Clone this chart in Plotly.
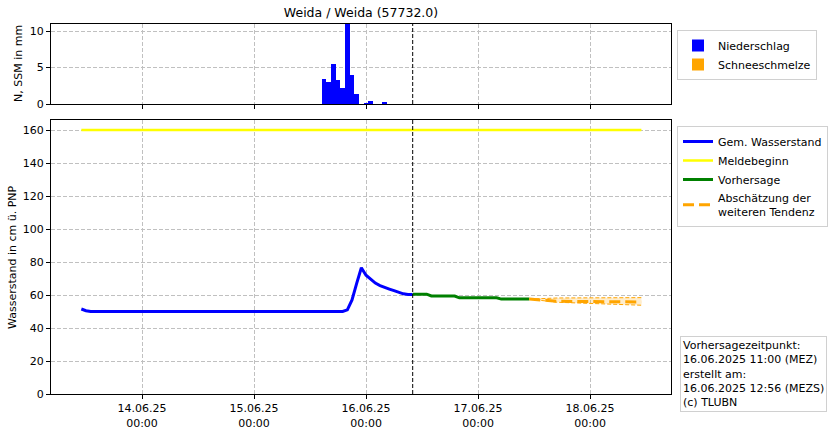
import plotly.graph_objects as go

# ---------------- data ----------------
title_text = "Weida / Weida (57732.0)"

# precipitation bars (hourly, centred)
precip_times = ["2025-06-15 15:00", "2025-06-15 16:00", "2025-06-15 17:00", "2025-06-15 18:00",
                "2025-06-15 19:00", "2025-06-15 20:00", "2025-06-15 21:00", "2025-06-15 22:00",
                "2025-06-16 00:00", "2025-06-16 01:00", "2025-06-16 04:00"]
precip_vals = [3.4, 3.0, 5.5, 3.3, 2.2, 10.9, 4.0, 1.4, 0.1, 0.4, 0.15]
snow_times = ["2025-06-15 15:00"]
snow_vals = [0.0]

# measured water level
obs_times = ["2025-06-13 11:00", "2025-06-13 12:00", "2025-06-13 13:00", "2025-06-15 19:00",
             "2025-06-15 20:00", "2025-06-15 21:00", "2025-06-15 22:00", "2025-06-15 23:00",
             "2025-06-16 00:00", "2025-06-16 01:00", "2025-06-16 02:00", "2025-06-16 03:00",
             "2025-06-16 04:00", "2025-06-16 05:00", "2025-06-16 06:00", "2025-06-16 07:00",
             "2025-06-16 08:00", "2025-06-16 09:00", "2025-06-16 10:00"]
obs_vals = [51.5, 50.5, 50.0, 50.0, 51.0, 57.0, 67.0, 76.5, 72.0, 69.5, 67.2, 65.7,
            64.5, 63.6, 62.6, 61.6, 60.7, 60.3, 60.3]

# alarm level start
meld_times = ["2025-06-13 11:00", "2025-06-18 11:00"]
meld_vals = [160, 160]

# forecast
fc_times = ["2025-06-16 10:00", "2025-06-16 13:00", "2025-06-16 14:00", "2025-06-16 19:00",
            "2025-06-16 20:00", "2025-06-17 04:00", "2025-06-17 05:00", "2025-06-17 11:00"]
fc_vals = [60.5, 60.5, 59.4, 59.4, 58.3, 58.3, 57.5, 57.5]

# further tendency
tend_times = ["2025-06-17 11:00", "2025-06-17 14:00", "2025-06-17 17:00", "2025-06-18 11:00"]
tend_vals = [57.5, 57.0, 56.2, 55.8]
tend_upper = [57.5, 58.0, 58.2, 58.4]
tend_lower = [57.5, 56.4, 55.6, 53.8]

forecast_time = "2025-06-16 10:00"
tick_vals = ["2025-06-14 00:00", "2025-06-15 00:00", "2025-06-16 00:00",
             "2025-06-17 00:00", "2025-06-18 00:00"]
tick_text = ["14.06.25<br>00:00", "15.06.25<br>00:00", "16.06.25<br>00:00",
             "17.06.25<br>00:00", "18.06.25<br>00:00"]
x_range = ["2025-06-13 04:30", "2025-06-18 17:21"]

y_top_label = "N, SSM in mm"
y_bot_label = "Wasserstand in cm ü. PNP"
info_text = ("Vorhersagezeitpunkt:<br>16.06.2025 11:00 (MEZ)<br>erstellt am:"
             "<br>16.06.2025 12:56 (MEZS)<br>(c) TLUBN")

# ---------------- figure ----------------
FONT = "DejaVu Sans"
W, H = 834, 431
L, R, T, B = 51, 671, 24, 394
PW, PH = R - L, B - T

fig = go.Figure()

fig.add_trace(go.Bar(x=precip_times, y=precip_vals, name="Niederschlag",
                     marker=dict(color="blue", line=dict(width=0)),
                     width=3600000, xaxis="x", yaxis="y", legend="legend"))
fig.add_trace(go.Bar(x=snow_times, y=snow_vals, name="Schneeschmelze",
                     marker=dict(color="orange", line=dict(width=0)),
                     width=3600000, xaxis="x", yaxis="y", legend="legend"))

fig.add_trace(go.Scatter(x=obs_times, y=obs_vals, mode="lines", name="Gem. Wasserstand",
                         line=dict(color="blue", width=3), xaxis="x2", yaxis="y2",
                         legend="legend2"))
fig.add_trace(go.Scatter(x=meld_times, y=meld_vals, mode="lines", name="Meldebeginn",
                         line=dict(color="#ffff00", width=2.5), xaxis="x2", yaxis="y2",
                         legend="legend2"))
fig.add_trace(go.Scatter(x=fc_times, y=fc_vals, mode="lines", name="Vorhersage",
                         line=dict(color="green", width=3), xaxis="x2", yaxis="y2",
                         legend="legend2"))
fig.add_trace(go.Scatter(x=tend_times, y=tend_upper, mode="lines", showlegend=False,
                         line=dict(color="orange", width=1, dash="4px,2px"),
                         xaxis="x2", yaxis="y2", hoverinfo="skip"))
fig.add_trace(go.Scatter(x=tend_times, y=tend_lower, mode="lines", showlegend=False,
                         line=dict(color="orange", width=1, dash="4px,2px"),
                         fill="tonexty", fillcolor="rgba(255,165,0,0.2)",
                         xaxis="x2", yaxis="y2", hoverinfo="skip"))
fig.add_trace(go.Scatter(x=tend_times, y=tend_vals, mode="lines",
                         name="Abschätzung der<br>weiteren Tendenz",
                         line=dict(color="orange", width=3, dash="11px,5px"),
                         xaxis="x2", yaxis="y2", legend="legend2"))

axis_common = dict(showline=True, linecolor="black", linewidth=1, mirror=True,
                   ticks="outside", ticklen=4, tickcolor="black", automargin=False,
                   showgrid=True, gridcolor="#c0c0c0", griddash="4px,2px", gridwidth=1,
                   zeroline=False, tickfont=dict(family=FONT, size=11, color="black"))

top_dom = [1 - 80 / PH, 1]
bot_dom = [0, 1 - 96 / PH]

legend_common = dict(xanchor="left", yanchor="top", bgcolor="white",
                     bordercolor="#d0d0d0", borderwidth=1, traceorder="normal",
                     font=dict(family=FONT, size=11), tracegroupgap=0, itemwidth=30)

fig.update_layout(
    width=W, height=H,
    margin=dict(l=L, r=W - R, t=T, b=H - B, autoexpand=False),
    paper_bgcolor="white", plot_bgcolor="white",
    font=dict(family=FONT, size=11, color="black"),
    barmode="stack", bargap=0,
    title=dict(text=title_text, x=0.5, xanchor="center", xref="paper",
               y=1 - 13 / H, yanchor="middle", yref="container",
               font=dict(family=FONT, size=12.5, color="black")),
    xaxis=dict(domain=[0, 1], anchor="y", type="date", range=x_range,
               tickvals=tick_vals, ticktext=tick_text, showticklabels=False,
               **axis_common),
    yaxis=dict(domain=top_dom, anchor="x", range=[0, 10.96], tickvals=[0, 5, 10],
               **axis_common),
    xaxis2=dict(domain=[0, 1], anchor="y2", type="date", range=x_range, matches="x",
                tickvals=tick_vals, ticktext=tick_text, **axis_common),
    yaxis2=dict(domain=bot_dom, anchor="x2", range=[0, 166.06],
                tickvals=[0, 20, 40, 60, 80, 100, 120, 140, 160],
                **axis_common),
    legend=dict(x=(677 - L) / PW, y=1 - (30 - T) / PH, **legend_common),
    legend2=dict(x=(677 - L) / PW, y=1 - (126 - T) / PH, **legend_common),
    showlegend=True,
)

# axis titles
fig.add_annotation(text=y_top_label, xref="paper", yref="paper",
                   x=(18 - L) / PW, y=1 - (64 - T) / PH, textangle=-90,
                   showarrow=False, xanchor="center", yanchor="middle",
                   font=dict(family=FONT, size=11, color="black"))
fig.add_annotation(text=y_bot_label, xref="paper", yref="paper",
                   x=(12 - L) / PW, y=1 - (257 - T) / PH, textangle=-90,
                   showarrow=False, xanchor="center", yanchor="middle",
                   font=dict(family=FONT, size=11, color="black"))

for xr, yr in [("x", "y domain"), ("x2", "y2 domain")]:
    fig.add_shape(type="line", xref=xr, yref=yr,
                  x0=forecast_time, x1=forecast_time, y0=0, y1=1,
                  line=dict(color="black", width=1, dash="4px,2px"))

fig.add_annotation(text=info_text, xref="paper", yref="paper",
                   x=(680 - L) / PW, y=1 - (336 - T) / PH, xanchor="left", yanchor="top",
                   align="left", showarrow=False, bgcolor="white",
                   bordercolor="#d0d0d0", borderwidth=1, borderpad=2,
                   font=dict(family=FONT, size=11, color="black"))

fig.write_html("out.html", config={"displayModeBar": False},
               post_script="document.body.style.margin='0';document.body.style.padding='0';")
